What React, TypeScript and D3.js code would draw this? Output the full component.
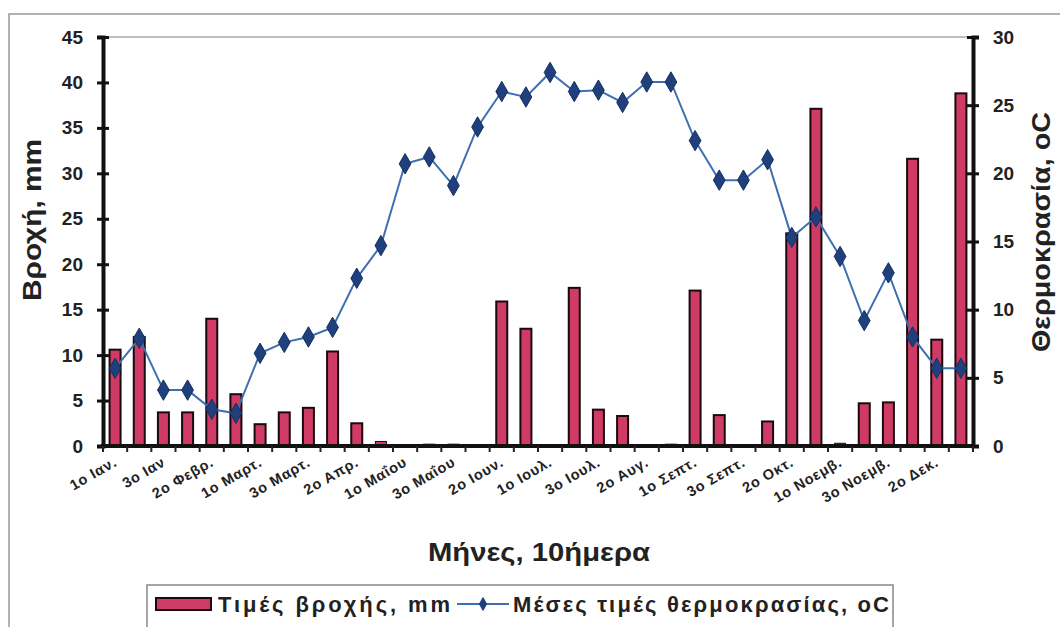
import * as d3 from "d3";
import {useEffect, useRef} from "react";

// dekad labels (only every other one is shown on the axis)
const dekads = [
  "1ο Ιαν.", "2ο Ιαν.", "3ο Ιαν", "1ο Φεβρ.", "2ο Φεβρ.", "3ο Φεβρ.",
  "1ο Μαρτ.", "2ο Μαρτ.", "3ο Μαρτ.", "1ο Απρ.", "2ο Απρ.", "3ο Απρ.",
  "1ο Μαΐου", "2ο Μαΐου", "3ο Μαΐου", "1ο Ιουν.", "2ο Ιουν.", "3ο Ιουν.",
  "1ο Ιουλ.", "2ο Ιουλ.", "3ο Ιουλ.", "1ο Αυγ.", "2ο Αυγ.", "3ο Αυγ.",
  "1ο Σεπτ.", "2ο Σεπτ.", "3ο Σεπτ.", "1ο Οκτ.", "2ο Οκτ.", "3ο Οκτ.",
  "1ο Νοεμβ.", "2ο Νοεμβ.", "3ο Νοεμβ.", "1ο Δεκ.", "2ο Δεκ.", "3ο Δεκ."
];

// rainfall, mm
const rain = [
  10.6, 12.0, 3.7, 3.7, 14.0, 5.7,
  2.4, 3.7, 4.2, 10.4, 2.5, 0.5,
  0.1, 0.2, 0.2, 0, 15.9, 12.9,
  0, 17.4, 4.0, 3.3, 0, 0.2,
  17.1, 3.4, 0, 2.7, 23.4, 37.1,
  0.3, 4.7, 4.8, 31.6, 11.7, 38.8
];

// mean temperature, oC
const temp = [
  5.7, 7.9, 4.1, 4.1, 2.7, 2.4,
  6.8, 7.6, 8.0, 8.7, 12.3, 14.7,
  20.7, 21.2, 19.1, 23.4, 26.0, 25.6,
  27.4, 26.0, 26.1, 25.2, 26.7, 26.7,
  22.4, 19.5, 19.5, 21.0, 15.3, 16.8,
  13.9, 9.2, 12.7, 8.0, 5.7, 5.7
];

const rainTicks = [0, 5, 10, 15, 20, 25, 30, 35, 40, 45];
const tempTicks = [0, 5, 10, 15, 20, 25, 30];

export default function App() {
  const ref = useRef(null);

  useEffect(() => {
    const width = 1060;
    const height = 627;
    const left = 103, right = 973, top = 37, bottom = 446;
    const font = "'Liberation Sans', Arial, sans-serif";

    const svg = d3.select(ref.current);
    svg.selectAll("*").remove();
    svg.attr("width", width).attr("height", height);

    svg.append("rect").attr("width", width).attr("height", height).attr("fill", "#fff");

    // outer frame (top + left edge only visible)
    svg.append("path").attr("d", `M9,${height} V14 H${width}`)
      .attr("fill", "none").attr("stroke", "#999").attr("stroke-width", 1.5);

    const x = d3.scaleBand().domain(dekads).range([left, right]).paddingInner(0).paddingOuter(0);
    const yRain = d3.scaleLinear().domain([0, 45]).range([bottom, top]);
    const yTemp = d3.scaleLinear().domain([0, 30]).range([bottom, top]);
    const cx = d => x(d) + x.bandwidth() / 2;

    // top border of plot area
    svg.append("line").attr("x1", left).attr("x2", right).attr("y1", top).attr("y2", top)
      .attr("stroke", "#aaa").attr("stroke-width", 1.5);

    // bars
    const barW = 11;
    svg.append("g").selectAll("rect").data(rain).join("rect")
      .attr("x", (_, i) => cx(dekads[i]) - barW / 2)
      .attr("y", d => yRain(d))
      .attr("width", barW)
      .attr("height", d => bottom - yRain(d))
      .attr("fill", "#cf3b64")
      .attr("stroke", "#1a0a10")
      .attr("stroke-width", d => d > 0.5 ? 2 : 1);

    // left axis
    const leftAxis = d3.axisLeft(yRain).tickValues(rainTicks).tickSize(6).tickPadding(14);
    const gl = svg.append("g").attr("transform", `translate(${left},0)`).call(leftAxis);
    gl.select(".domain").attr("stroke", "#111").attr("stroke-width", 4);
    gl.selectAll(".tick line").attr("x2", 6).attr("x1", -6).attr("stroke", "#111").attr("stroke-width", 3);
    gl.selectAll(".tick text").attr("font-family", font).attr("font-weight", "bold").attr("font-size", 19).attr("fill", "#222");

    // right axis
    const rightAxis = d3.axisRight(yTemp).tickValues(tempTicks).tickSize(6).tickPadding(14);
    const gr = svg.append("g").attr("transform", `translate(${right},0)`).call(rightAxis);
    gr.select(".domain").attr("stroke", "#111").attr("stroke-width", 4);
    gr.selectAll(".tick line").attr("x1", -6).attr("x2", 6).attr("stroke", "#111").attr("stroke-width", 3);
    gr.selectAll(".tick text").attr("font-family", font).attr("font-weight", "bold").attr("font-size", 19).attr("fill", "#222");

    // bottom axis
    const gb = svg.append("g").attr("transform", `translate(0,${bottom})`);
    gb.append("line").attr("x1", left - 2).attr("x2", right + 2).attr("stroke", "#111").attr("stroke-width", 4);
    gb.selectAll("line.tk").data(dekads.concat(["end"])).join("line").attr("class", "tk")
      .attr("x1", (d, i) => left + i * x.bandwidth())
      .attr("x2", (d, i) => left + i * x.bandwidth())
      .attr("y1", 0).attr("y2", 6).attr("stroke", "#222").attr("stroke-width", 2);
    gb.selectAll("text").data(dekads.filter((_, i) => i % 2 === 0)).join("text")
      .attr("transform", d => `translate(${cx(d) + 3},${19}) rotate(-30)`)
      .attr("text-anchor", "end")
      .attr("font-family", font).attr("font-weight", "bold").attr("font-size", 14.5)
      .attr("letter-spacing", 0.8).attr("fill", "#222")
      .text(d => d);

    // temperature line
    const line = d3.line().x((_, i) => cx(dekads[i])).y(d => yTemp(d));
    svg.append("path").datum(temp).attr("d", line)
      .attr("fill", "none").attr("stroke", "#3e6fb3").attr("stroke-width", 2);
    const diamond = d3.symbol().type(d3.symbolDiamond).size(120);
    svg.append("g").selectAll("path").data(temp).join("path")
      .attr("transform", (d, i) => `translate(${cx(dekads[i])},${yTemp(d)})`)
      .attr("d", diamond)
      .attr("fill", "#1f3f7d").attr("stroke", "#16305f").attr("stroke-width", 1);

    // axis titles
    svg.append("text").attr("transform", `translate(41,220) rotate(-90)`)
      .attr("text-anchor", "middle").attr("font-family", font).attr("font-weight", "bold")
      .attr("font-size", 25).attr("textLength", 162).attr("lengthAdjust", "spacingAndGlyphs")
      .attr("fill", "#222").text("Βροχή, mm");
    svg.append("text").attr("transform", `translate(1050,232) rotate(-90)`)
      .attr("text-anchor", "middle").attr("font-family", font).attr("font-weight", "bold")
      .attr("font-size", 25).attr("textLength", 240).attr("lengthAdjust", "spacingAndGlyphs")
      .attr("fill", "#222").text("Θερμοκρασία, oC");
    svg.append("text").attr("x", 539).attr("y", 561)
      .attr("text-anchor", "middle").attr("font-family", font).attr("font-weight", "bold")
      .attr("font-size", 25).attr("textLength", 222).attr("lengthAdjust", "spacingAndGlyphs")
      .attr("fill", "#222").text("Μήνες, 10ήμερα");

    // legend
    const lg = svg.append("g");
    lg.append("rect").attr("x", 147).attr("y", 585).attr("width", 746).attr("height", 60)
      .attr("fill", "#fff").attr("stroke", "#888").attr("stroke-width", 1.5);
    lg.append("rect").attr("x", 156).attr("y", 598).attr("width", 55).attr("height", 12)
      .attr("fill", "#cf3b64").attr("stroke", "#1a0a10").attr("stroke-width", 2);
    lg.append("text").attr("x", 218).attr("y", 612).attr("font-family", font).attr("font-weight", "bold")
      .attr("font-size", 22).attr("textLength", 232).attr("lengthAdjust", "spacing")
      .attr("fill", "#222").text("Τιμές βροχής, mm");
    lg.append("line").attr("x1", 457).attr("x2", 509).attr("y1", 604).attr("y2", 604)
      .attr("stroke", "#3e6fb3").attr("stroke-width", 2);
    lg.append("path").attr("transform", "translate(483,604)").attr("d", d3.symbol().type(d3.symbolDiamond).size(60))
      .attr("fill", "#1f3f7d");
    lg.append("text").attr("x", 513).attr("y", 612).attr("font-family", font).attr("font-weight", "bold")
      .attr("font-size", 22).attr("textLength", 376).attr("lengthAdjust", "spacing")
      .attr("fill", "#222").text("Μέσες τιμές θερμοκρασίας, oC");
  }, []);

  return <svg ref={ref} style={{position: "absolute", left: 0, top: 0}}></svg>;
}
